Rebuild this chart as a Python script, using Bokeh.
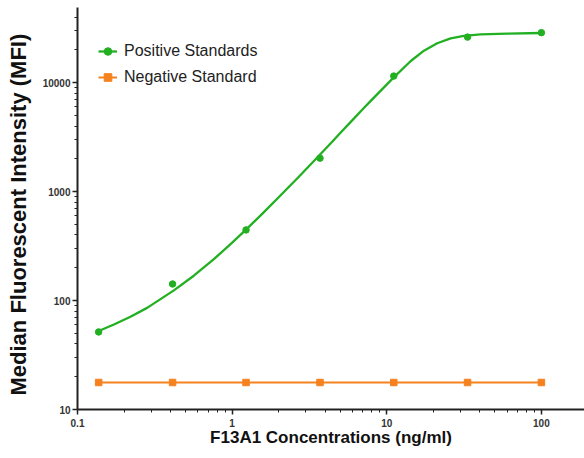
from bokeh.plotting import figure
from bokeh.embed import file_html
from bokeh.resources import INLINE
from bokeh.models import FixedTicker, Range1d, Legend, LegendItem, NumeralTickFormatter

# Data
conc = [0.137, 0.412, 1.23, 3.70, 11.1, 33.3, 100]
positive = [51.5, 142, 445, 2030, 11500, 26200, 28800]
negative = [17.7, 17.7, 17.7, 17.7, 17.7, 17.7, 17.7]

# Fitted curve
curve_x = [0.137, 0.172, 0.220, 0.282, 0.420, 0.565, 0.762, 0.977, 1.22, 1.60,
           2.06, 2.77, 3.64, 4.33, 5.02, 5.83, 7.11, 7.85, 11.1, 14.3,
           17.4, 21.2, 25.9, 31.5, 40.4, 60.1, 98.6]
curve_y = [52.6, 60.3, 71.0, 85.7, 124, 169, 240, 330, 443, 644,
           925, 1422, 2133, 2767, 3467, 4345, 5848, 6776, 11190, 15810,
           19680, 23010, 25470, 26920, 27730, 28180, 28580]

x_ticks = [0.1, 1, 10, 100]
y_ticks = [10, 100, 1000, 10000]
x_minor = [m * t for t in x_ticks for m in range(2, 10)]
y_minor = [m * t for t in y_ticks for m in range(2, 10)]

GREEN = "#22b022"
ORANGE = "#f5821f"
FONT = "Liberation Sans"

p = figure(width=584, height=458, x_axis_type="log", y_axis_type="log",
           x_range=Range1d(0.1, 190), y_range=Range1d(10, 49000),
           output_backend="svg", toolbar_location=None,
           min_border_left=77, min_border_right=0, min_border_top=7,
           min_border_bottom=49)
p.outline_line_color = None
p.xgrid.visible = False
p.ygrid.visible = False
p.background_fill_color = "white"

curve = p.line(curve_x, curve_y, line_color=GREEN, line_width=2.3,
               line_join="round")
pos_pts = p.scatter(conc, positive, marker="circle", size=6.5,
                    fill_color=GREEN, line_color=GREEN)
neg_line = p.line(conc, negative, line_color=ORANGE, line_width=2)
neg_pts = p.scatter(conc, negative, marker="square", size=6.5,
                    fill_color=ORANGE, line_color=ORANGE)

for ax, ticks, minor in ((p.xaxis, x_ticks, x_minor), (p.yaxis, y_ticks, y_minor)):
    ax.ticker = FixedTicker(ticks=ticks, minor_ticks=minor)
    ax.formatter = NumeralTickFormatter(format="0.[0]")
    ax.axis_line_width = 2
    ax.axis_line_color = "#222222"
    ax.major_tick_line_color = "#222222"
    ax.minor_tick_line_color = "#222222"
    ax.major_tick_line_width = 1.5
    ax.major_tick_in = 0
    ax.major_tick_out = 5
    ax.minor_tick_in = 0
    ax.minor_tick_out = 3
    ax.major_label_text_font = FONT
    ax.major_label_text_font_size = "10px"
    ax.major_label_text_font_style = "bold"
    ax.major_label_text_color = "#333333"
    ax.axis_label_text_font = FONT
    ax.axis_label_text_font_style = "bold"
    ax.axis_label_text_color = "#111111"

p.xaxis.axis_label = "F13A1 Concentrations (ng/ml)"
p.yaxis.axis_label = "Median  Fluorescent Intensity  (MFI)"
p.xaxis.axis_label_text_font_size = "17px"
p.yaxis.axis_label_text_font_size = "22px"
p.xaxis.major_label_standoff = 4
p.xaxis.axis_label_standoff = -2
p.yaxis.major_label_standoff = 2
p.yaxis.axis_label_standoff = 9

legend = Legend(items=[
    LegendItem(label="Positive Standards", renderers=[curve, pos_pts]),
    LegendItem(label="Negative Standard", renderers=[neg_line, neg_pts]),
], location=(21, 322))
legend.padding = 0
legend.margin = 0
legend.spacing = 6
legend.glyph_width = 19
legend.glyph_height = 20
legend.label_height = 20
legend.label_standoff = 7
legend.label_text_font = FONT
legend.label_text_font_size = "16px"
legend.label_text_color = "#222222"
legend.border_line_color = None
legend.background_fill_alpha = 0
p.add_layout(legend)

open("out.html", "w").write(file_html(p, INLINE))
